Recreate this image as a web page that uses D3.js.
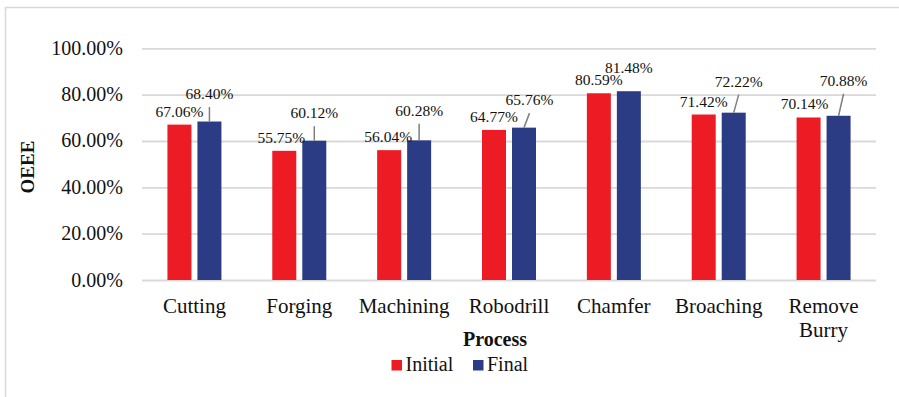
<!DOCTYPE html>
<html>
<head>
<meta charset="utf-8">
<script src="https://cdn.jsdelivr.net/npm/d3@7"></script>
</head>
<body style="margin:0;background:#fff">
<svg id="chart" width="899" height="397"></svg>
<script>
const categories = ['Cutting', 'Forging', 'Machining', 'Robodrill', 'Chamfer', 'Broaching', 'Remove Burry']
const seriesNames = ['Initial', 'Final']
const initialValues = [0.6706, 0.5575, 0.5604, 0.6477, 0.8059, 0.7142, 0.7014]
const finalValues = [0.6840, 0.6012, 0.6028, 0.6576, 0.8148, 0.7222, 0.7088]
const yTicks = [0, 0.2, 0.4, 0.6, 0.8, 1.0]

// label nudges for the data labels (pixels)
const initialLabelDx = [0, -3, -1, 0, 0, 0, -4]
const finalLabelDx = [0, 0, 0, 5.5, 0, 5, 5]
const finalLabelLift = [22.5, 22.5, 24.5, 22.5, 18, 26, 30]
const finalLeader = [true, true, true, true, false, true, true]

const colors = { Initial: '#ed1c24', Final: '#2b3c85' }
const FONT = '"Liberation Serif", serif'

const svg = d3.select('#chart')

// outer frame (left + top only visible)
svg.append('path')
    .attr('d', 'M5.5,400 V7.5 H905')
    .attr('fill', 'none')
    .attr('stroke', '#d9d9d9')
    .attr('stroke-width', 1.5)

const margin = { left: 142, right: 876, top: 48.3, bottom: 280 }

const x = d3.scaleBand()
    .domain(categories)
    .range([margin.left, margin.right])
    .padding(0)

const xInner = d3.scaleBand()
    .domain(seriesNames)
    .range([-27, 27])
    .paddingInner(0.2)
    .paddingOuter(0)

const y = d3.scaleLinear()
    .domain([0, 1])
    .range([margin.bottom, margin.top])

// y axis with gridlines
const yAxis = svg.append('g')
    .attr('transform', `translate(${margin.left},0)`)
    .call(d3.axisLeft(y)
        .tickValues(yTicks)
        .tickFormat(d3.format('.2%'))
        .tickSize(-(margin.right - margin.left))
        .tickPadding(19))

yAxis.select('.domain').remove()
yAxis.selectAll('.tick line')
    .attr('stroke', '#d9d9d9')
    .attr('stroke-width', 1.8)
yAxis.selectAll('.tick text')
    .attr('font-size', 20)
    .attr('fill', '#111')
    .attr('dy', '0.3em')

// bars
const data = categories.map((c, i) => ({
    category: c,
    i,
    values: [
        { key: 'Initial', value: initialValues[i] },
        { key: 'Final', value: finalValues[i] }
    ]
}))

const groups = svg.append('g')
    .selectAll('g')
    .data(data)
    .join('g')
    .attr('transform', d => `translate(${x(d.category) + x.bandwidth() / 2},0)`)

groups.selectAll('rect')
    .data(d => d.values)
    .join('rect')
    .attr('x', d => xInner(d.key))
    .attr('width', xInner.bandwidth())
    .attr('y', d => y(d.value))
    .attr('height', d => y(0) - y(d.value))
    .attr('fill', d => colors[d.key])

const fmt = d3.format('.2%')

// initial labels
groups.append('text')
    .attr('x', d => xInner('Initial') + xInner.bandwidth() / 2 + initialLabelDx[d.i])
    .attr('y', d => y(initialValues[d.i]) - 8)
    .attr('text-anchor', 'middle')
    .attr('font-size', 15.5)
    .attr('fill', '#111')
    .text(d => fmt(initialValues[d.i]))

// final labels + leader lines
const finalCx = xInner('Final') + xInner.bandwidth() / 2

groups.filter(d => finalLeader[d.i])
    .append('line')
    .attr('x1', d => finalCx + finalLabelDx[d.i])
    .attr('y1', d => y(finalValues[d.i]) - finalLabelLift[d.i] + 8)
    .attr('x2', finalCx)
    .attr('y2', d => y(finalValues[d.i]))
    .attr('stroke', '#7f7f7f')
    .attr('stroke-width', 1.5)

groups.append('text')
    .attr('x', d => finalCx + finalLabelDx[d.i])
    .attr('y', d => y(finalValues[d.i]) - finalLabelLift[d.i])
    .attr('text-anchor', 'middle')
    .attr('font-size', 15.5)
    .attr('fill', '#111')
    .text(d => fmt(finalValues[d.i]))

// x axis labels
const xLabels = svg.append('g')
    .selectAll('text')
    .data(categories)
    .join('text')
    .attr('x', d => x(d) + x.bandwidth() / 2)
    .attr('y', 313)
    .attr('text-anchor', 'middle')
    .attr('font-size', 21)
    .attr('fill', '#111')

xLabels.each(function (d) {
    const words = d.split(' ')
    const t = d3.select(this)
    words.forEach((w, k) => {
        t.append('tspan')
            .attr('x', x(d) + x.bandwidth() / 2)
            .attr('dy', k === 0 ? 0 : 24)
            .text(w)
    })
})

// axis titles
svg.append('text')
    .attr('x', 495)
    .attr('y', 346)
    .attr('text-anchor', 'middle')
    .attr('font-size', 20)
    .attr('font-weight', 'bold')
    .attr('fill', '#111')
    .text('Process')

svg.append('text')
    .attr('transform', 'translate(33.5,167) rotate(-90)')
    .attr('text-anchor', 'middle')
    .attr('font-size', 19)
    .attr('font-weight', 'bold')
    .attr('fill', '#111')
    .text('OEEE')

// legend
const legendX = [391.5, 473]
const legend = svg.append('g')
    .selectAll('g')
    .data(seriesNames)
    .join('g')
    .attr('transform', (d, i) => `translate(${legendX[i]},360)`)

legend.append('rect')
    .attr('width', 10.5)
    .attr('height', 10.5)
    .attr('fill', d => colors[d])

legend.append('text')
    .attr('x', 14)
    .attr('y', 11)
    .attr('font-size', 20)
    .attr('fill', '#111')
    .text(d => d)

// serif everywhere (inline style beats the axis' sans-serif attribute)
svg.selectAll('text').style('font-family', FONT)
</script>
</body>
</html>
